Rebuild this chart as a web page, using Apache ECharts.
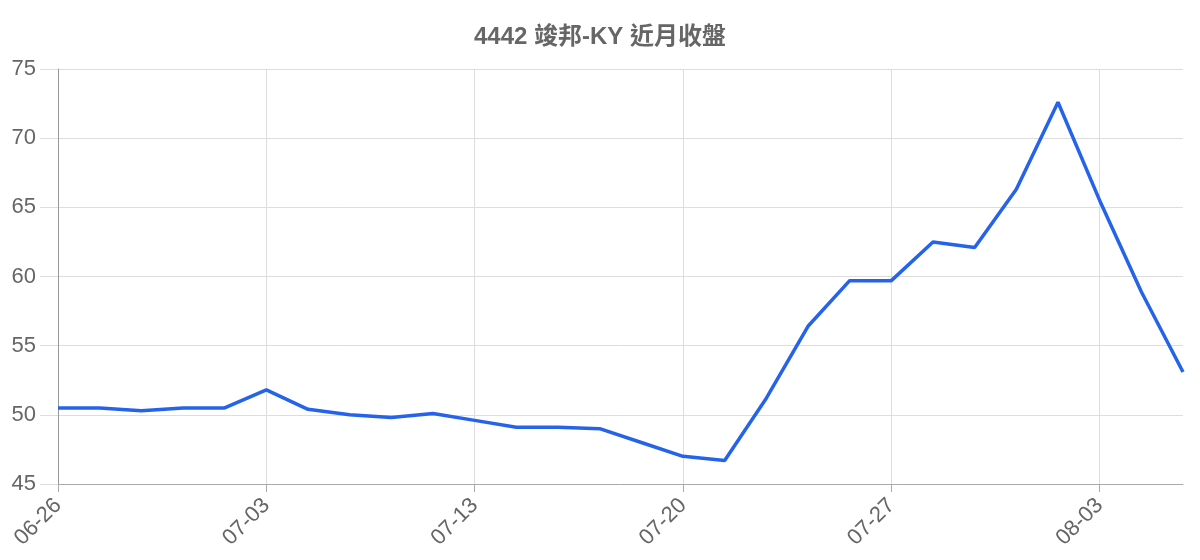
<!DOCTYPE html>
<html>
<head>
<meta charset="utf-8">
<script src="https://cdn.jsdelivr.net/npm/echarts@6/dist/echarts.min.js"></script>
<style>
  html, body { margin: 0; padding: 0; background: #fff; }
  #main { width: 1200px; height: 560px; }
</style>
</head>
<body>
<div id="main"></div>
<script>
// 交易日
const dates = [
  '06-26', '06-27', '06-28', '06-29', '07-02',
  '07-03', '07-06', '07-09', '07-10', '07-12',
  '07-13', '07-16', '07-17', '07-18', '07-19',
  '07-20', '07-23', '07-24', '07-25', '07-26',
  '07-27', '07-30', '07-31', '08-01', '08-02',
  '08-03', '08-06', '08-07'
];
// 收盤價
const closes = [
  50.5, 50.5, 50.3, 50.5, 50.5,
  51.8, 50.4, 50.0, 49.8, 50.1,
  49.6, 49.1, 49.1, 49.0, 48.0,
  47.0, 46.7, 51.2, 56.4, 59.7,
  59.7, 62.5, 62.1, 66.3, 72.6,
  65.5, 58.9, 53.1
];
const chartTitle = '4442 竣邦-KY 近月收盤';

const myChart = echarts.init(document.getElementById('main'));
const fontFamily = 'Liberation Sans, Arial, "Noto Sans CJK TC", sans-serif';
myChart.setOption({
  animation: false,
  title: {
    text: chartTitle,
    left: 'center',
    top: 20,
    textStyle: { color: '#666', fontSize: 24, fontWeight: 'bold', fontFamily }
  },
  grid: { left: 58, right: 17, top: 69, bottom: 76 },
  xAxis: {
    type: 'category',
    data: dates,
    boundaryGap: false,
    axisLine: { lineStyle: { color: '#aaa' } },
    axisTick: { show: true, interval: 4, length: 8, lineStyle: { color: '#aaa' } },
    axisLabel: {
      interval: 4, rotate: 45, color: '#666', fontSize: 22, fontFamily, margin: 18
    },
    splitLine: { show: true, interval: 4, lineStyle: { color: '#ddd' } }
  },
  yAxis: {
    type: 'value',
    min: 45,
    max: 75,
    interval: 5,
    axisLine: { show: true, lineStyle: { color: '#999' } },
    axisTick: { show: true, length: 18, lineStyle: { color: '#ddd' } },
    axisLabel: { color: '#666', fontSize: 22, fontFamily, margin: 22 },
    splitLine: { lineStyle: { color: '#ddd' } }
  },
  series: [{
    type: 'line',
    data: closes,
    showSymbol: false,
    lineStyle: { color: '#2563eb', width: 3.5 },
    itemStyle: { color: '#2563eb' }
  }]
});
</script>
</body>
</html>
